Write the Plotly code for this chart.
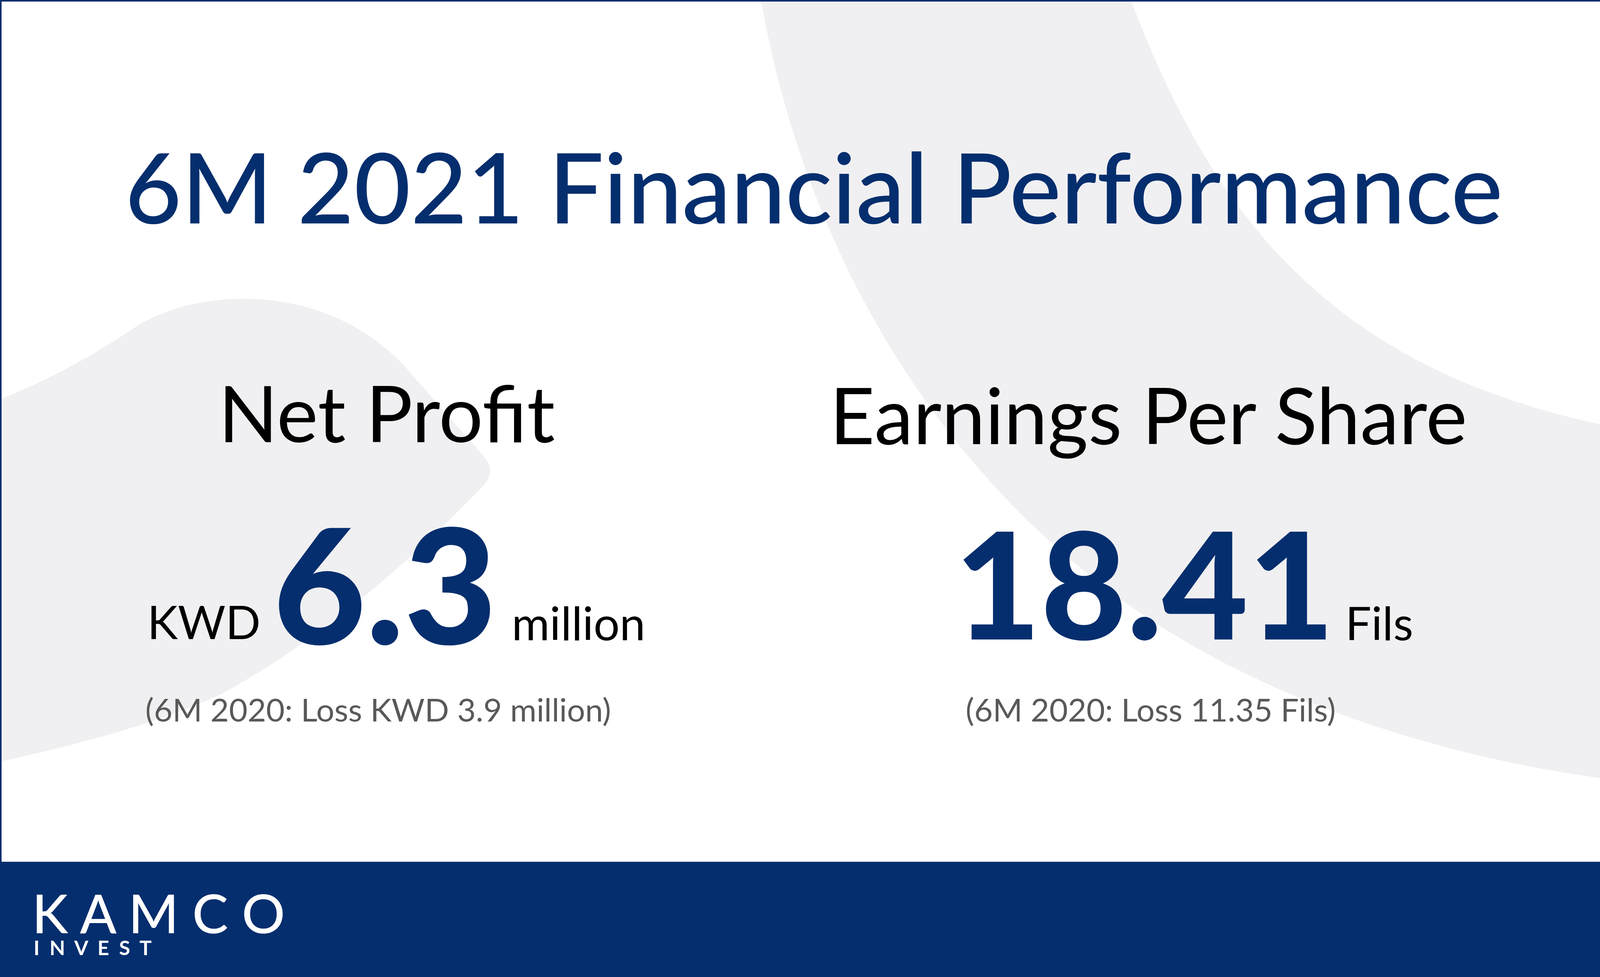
import plotly.graph_objects as go

W, H = 4167, 2501
NAVY = "#052e6e"
BLOB = "#f0f0f2"
TITLE = "6M 2021 Financial Performance"
HEAD = ["Net Profit", "Earnings Per Share"]
VALUE = ["6.3", "18.41"]
PREFIX = "KWD"
SUFFIX = ["million", "Fils"]
NOTE = ["(6M 2020: Loss KWD 3.9 million)", "(6M 2020: Loss 11.35 Fils)"]
LOGO = ["K A M C O", "I  N  V  E  S  T"]

BAND = ("M 1948 0 C 2090 800 2560 1420 3180 1720 C 3440 1850 3800 1960 4167 2000 "
        "L 4167 1100 C 3400 960 3100 540 2895 0 Z")
BLOB_L = ("M 0 1022 C 120 975 240 910 350 835 C 520 730 860 720 1060 965 "
          "L 1240 1170 Q 1270 1205 1240 1240 C 1030 1460 800 1650 560 1780 "
          "C 380 1860 180 1910 0 1950 Z")

fig = go.Figure()
fig.update_layout(
    width=W, height=H, margin=dict(l=0, r=0, t=0, b=0),
    paper_bgcolor="white", plot_bgcolor="white", showlegend=False,
    xaxis=dict(range=[0, W], visible=False, fixedrange=True),
    yaxis=dict(range=[H, 0], visible=False, fixedrange=True),
)
fig.update_layout(shapes=[
    dict(type="path", path=BAND, fillcolor=BLOB, line_width=0, layer="below"),
    dict(type="path", path=BLOB_L, fillcolor=BLOB, line_width=0, layer="below"),
    dict(type="rect", x0=0, x1=W, y0=2208, y1=H, fillcolor=NAVY, line_width=0, layer="below"),
    dict(type="rect", x0=2, x1=W-2, y0=2, y1=2208, fillcolor="rgba(0,0,0,0)",
         line=dict(color=NAVY, width=4), layer="above"),
])

FONT = "Lato"
def T(x, y, s, size, color, anchor="left", weight=400, font=FONT):
    fig.add_annotation(x=x, y=y, text=s, showarrow=False, xanchor=anchor, yanchor="middle",
                       font=dict(size=size, color=color, family=font, weight=weight),
                       xref="x", yref="y")

T(2083, 475, TITLE, 250, NAVY, "center", 500)
T(990, 1055, HEAD[0], 200, "#000000", "center")
T(2940, 1060, HEAD[1], 200, "#000000", "center")
T(375, 1590, PREFIX, 118, "#000000")
T(985, 1490, VALUE[0], 410, NAVY, "center", 900)
T(1308, 1593, SUFFIX[0], 118, "#000000")
T(2930, 1490, VALUE[1], 380, NAVY, "center", 900)
T(3442, 1593, SUFFIX[1], 118, "#000000")
T(370, 1815, NOTE[0], 82, "#595959")
T(2470, 1815, NOTE[1], 82, "#595959")
T(80, 2335, LOGO[0], 138, "#ffffff", weight=500)
T(84, 2425, LOGO[1], 52, "#ffffff", weight=700)

fig.write_html("out.html", post_script="document.body.style.margin='0';document.body.style.overflow='hidden';")
